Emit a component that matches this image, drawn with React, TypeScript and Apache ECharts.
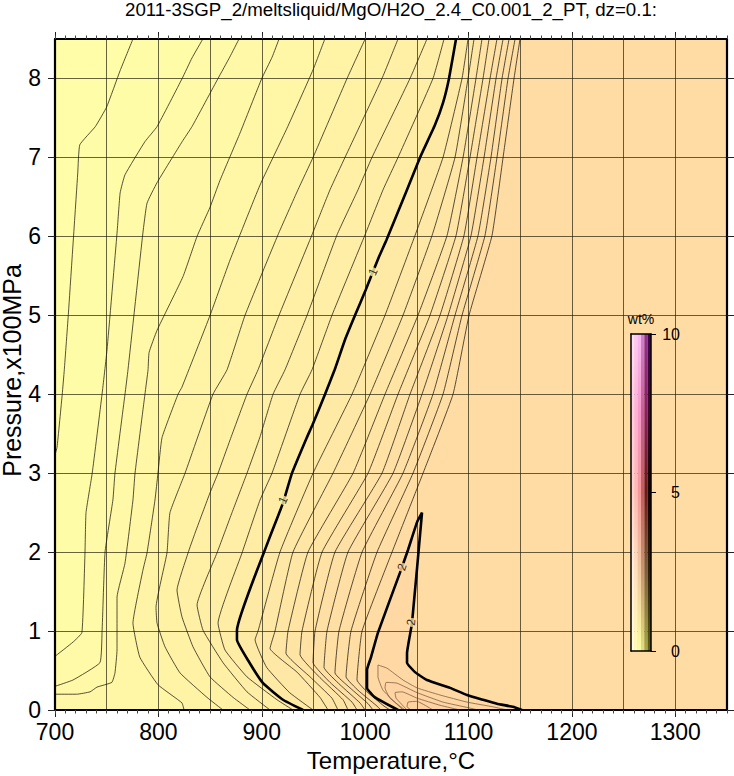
import React, { useEffect, useRef } from "react";
import * as echarts from "echarts";

const titleText = "2011-3SGP_2/meltsliquid/MgO/H2O_2.4_C0.001_2_PT, dz=0.1:";
const xLabelTicks = [700, 800, 900, 1000, 1100, 1200, 1300];
const yLabelTicks = [0, 1, 2, 3, 4, 5, 6, 7, 8];
const barTicks = [0, 5, 10];

const rowsP = [8.5, 8, 7, 6.01, 5, 4, 3, 2, 1];

const c01T = [775.4, 763, 750, 739, 724, 722, 713, 709, 707, 702, 700];
const c01P = [8.5, 8.1, 7.64, 7.39, 7.16, 6.8, 5.03, 4.31, 4.0, 3.33, 3.23];
const c02T = [843, 832.5, 823, 798.7, 787, 767.7, 763, 760, 750.3, 745.5, 736, 730, 729, 726, 717.4, 700];
const c02P = [8.5, 8.26, 8, 7.39, 7.2, 6.78, 6.55, 6.04, 4.56, 4, 3, 2.5, 1.99, 0.98, 0.86, 0.68];
const c03T = [878, 869, 857.7, 832.5, 823, 798.7, 789, 785, 770.6, 767.7, 758, 756, 748.4, 745.5, 743.5, 717.4, 700];
const c03P = [8.5, 8.27, 8, 7.39, 7.2, 6.68, 6.42, 6.04, 4.31, 4, 3, 2.66, 2, 0.98, 0.6, 0.38, 0.3];
const c04T = [916.7, 910, 900, 879, 859.6, 850, 837.4, 823.8, 798.7, 791, 790, 787, 777.4, 775.4, 767.7, 760, 760, 758, 755, 740.6, 733.9, 721, 700];
const c04P = [8.5, 8.27, 8, 7.31, 6.71, 6.37, 6, 5.49, 4.81, 4.53, 4.31, 4, 3, 2.66, 1.86, 1.43, 0.76, 0.47, 0.35, 0.29, 0.23, 0.2, 0.2];
const c05T = [961, 949.6, 924.4, 898.3, 869.3, 850, 822.8, 819, 803.5, 799.6, 796.7, 789, 785, 775.4, 782, 799.6, 822.8, 824.8];
const c05P = [8.5, 8.11, 7.37, 6.65, 5.7, 5, 4.09, 4, 3.45, 3, 2.66, 1.99, 1.77, 1.1, 0.67, 0.32, 0.09, 0];
const c06T = [1000, 982.5, 949.6, 935, 915.7, 883.8, 866.4, 852.8, 825.8, 811.2, 808.3, 797.7, 798.7, 806.4, 820.9, 847, 862.5];
const c06P = [8.5, 8, 7, 6.59, 6.02, 5, 4.31, 4, 3, 2.5, 1.99, 1.3, 1.1, 0.8, 0.47, 0.16, 0];
const c07T = [1031.8, 1016.3, 980.5, 966, 948.6, 916.7, 896.4, 885.7, 869.3, 857.7, 849.9, 835.4, 828.7, 818, 822.8, 833.5, 849.9, 872.2, 888.6];
const c07P = [8.5, 8, 7, 6.59, 6.02, 5, 4.31, 4, 3.42, 3, 2.75, 2.24, 1.99, 1.52, 1.18, 0.8, 0.42, 0.16, 0];
const c08T = [1059.8, 1043.4, 1006.6, 993.1, 972.8, 943.8, 922.5, 910.9, 898.3, 885.7, 871.2, 856.7, 837.4, 843.2, 862.5, 885.7, 908];
const c08P = [8.5, 8, 7, 6.59, 6.02, 5, 4.31, 4, 3.46, 3, 2.5, 1.99, 1.33, 1.01, 0.6, 0.23, 0];
const c09T = [1076.3, 1065.6, 1031.8, 1017.3, 999.9, 967.9, 948.6, 937, 909.9, 898.3, 880.9, 857.7, 864.4, 885.7, 914.7, 930.2];
const c09P = [8.5, 8, 7, 6.59, 6.02, 5, 4.31, 4, 3, 2.66, 1.99, 1.1, 0.76, 0.42, 0.13, 0];
const c10T = [1087.9, 1081.1, 1075.3, 1067.5, 1053.1, 1040.5, 1020.5, 1013, 1000.5, 990.2, 980.5, 970.5, 961.2, 949, 943.5, 929.2, 920.5, 906, 876, 876, 886.7, 901.2, 920.5, 939.9];
const c10P = [8.5, 8, 7.69, 7.41, 7, 6.59, 5.95, 5.73, 5.32, 5, 4.69, 4.31, 4, 3.61, 3.45, 3, 2.62, 2.13, 1.01, 0.89, 0.63, 0.34, 0.13, 0];

const c11T = [1099.5, 1093.7, 1075.3, 1048.2, 1019.2, 987.3, 949.6, 917.6, 896.4, 893.5, 904.7, 926.9, 949.6];
const c11P = [...rowsP, 0.89, 0.54, 0.22, 0];
const c12T = [1105.3, 1099.5, 1086.9, 1064.7, 1036.6, 1004.7, 968.9, 930.2, 912.8, 908, 934.1, 956.3, 964.1];
const c12P = [...rowsP, 0.78, 0.48, 0.16, 0];
const c13T = [1113, 1107.2, 1094.7, 1079.2, 1051.1, 1019.2, 988.3, 944.7, 925.4, 923.4, 946.7, 967.9, 973.7];
const c13P = [...rowsP, 0.72, 0.42, 0.15, 0];
const c14T = [1119.8, 1114, 1101.4, 1087.9, 1062.7, 1031.8, 1002.8, 958.3, 938.9, 937, 956.3, 978.6, 983.4];
const c14P = [...rowsP, 0.7, 0.41, 0.13, 0];
const c15T = [1127.5, 1120.8, 1108.2, 1095.6, 1072.4, 1043.4, 1016.3, 970.8, 951.5, 949.6, 966, 987.3, 992.1];
const c15P = [...rowsP, 0.6, 0.35, 0.1, 0];
const c16T = [1133.4, 1126.6, 1115, 1102.4, 1080.2, 1055, 1027, 983.4, 963.1, 960.2, 975.7, 995, 999.9];
const c16P = [...rowsP, 0.54, 0.32, 0.09, 0];
const c17T = [1139.2, 1132.4, 1121.7, 1109.2, 1086.9, 1065.6, 1036.6, 997, 974.7, 970.8, 985.4, 1002.8, 1007.6];
const c17P = [...rowsP, 0.47, 0.28, 0.08, 0];
const c18T = [1145, 1138.2, 1127.5, 1115.9, 1093.7, 1075.3, 1046.3, 1011.5, 986.3, 981.5, 993.1, 1010.5, 1015.3];
const c18P = [...rowsP, 0.42, 0.25, 0.06, 0];
const c19T = [1149.8, 1144, 1133.4, 1122.7, 1100.5, 1085, 1056, 1026, 997, 992.1, 1001.8, 1018.2, 1024];
const c19P = [...rowsP, 0.38, 0.23, 0.05, 0];

const c20T = [1031.8, 1009.5, 1001.8, 1001.8, 1005.7, 1012.4, 1033.7, 1041.5, 1050.2, 1055, 1045.3, 1040.5, 1040.5, 1048.2, 1059.8, 1082.1, 1098.5, 1114, 1127.5, 1143, 1151.7];
const c20P = [0, 0.16, 0.28, 0.51, 0.67, 0.98, 1.74, 2.03, 2.38, 2.5, 1.1, 0.72, 0.6, 0.48, 0.38, 0.28, 0.19, 0.13, 0.08, 0.04, 0];
const c21T = [1036.6, 1017.3, 1012.4, 1012.4, 1021.1, 1036.6, 1050.2, 1072.4, 1098.5, 1123.7, 1137.2];
const c21P = [0, 0.25, 0.42, 0.57, 0.53, 0.38, 0.28, 0.19, 0.1, 0.04, 0];
const c22T = [1038.6, 1024, 1019.2, 1020.2, 1030.8, 1050.2, 1075.3, 1099.5, 1109.2];
const c22P = [0, 0.15, 0.28, 0.35, 0.34, 0.22, 0.1, 0.03, 0];
const c23T = [1040.5, 1029.9, 1028.9, 1035.7, 1050.2, 1072.4, 1091.8];
const c23P = [0, 0.15, 0.22, 0.23, 0.15, 0.06, 0];
const c24T = [1044.4, 1040.5, 1041.5, 1050.2, 1057.9, 1065.6];
const c24P = [0, 0.04, 0.1, 0.11, 0.06, 0];

const openT = [c01T, c02T, c03T, c04T, c05T, c06T, c07T, c08T, c09T, c10T, c11T, c12T, c13T, c14T, c15T, c16T, c17T, c18T, c19T];
const openP = [c01P, c02P, c03P, c04P, c05P, c06P, c07P, c08P, c09P, c10P, c11P, c12P, c13P, c14P, c15P, c16P, c17P, c18P, c19P];
const closedT = [c20T, c21T, c22T, c23T, c24T];
const closedP = [c20P, c21P, c22P, c23P, c24P];
const heavyLevels = [9];

const baseColor = "#FFFDA8";
const openColors = ["#FFFCA7", "#FFFAA7", "#FFF8A6", "#FFF6A6", "#FFF4A6", "#FFF2A5", "#FFF0A5", "#FFEEA5", "#FFECA5", "#FFEAA5", "#FFE8A5", "#FFE6A5", "#FFE4A4", "#FFE2A4", "#FFE0A4", "#FFDFA4", "#FFDEA4", "#FFDDA3", "#FFDCA3"];
const closedColors = ["#FFD8A3", "#FFD6A2", "#FFD4A2", "#FFD2A1", "#FFD0A0"];

const labelT = [1007.6, 920.5, 1035.7, 1044.4];
const labelP = [5.55, 2.66, 1.81, 1.11];
const labelText = ["1", "1", "2", "2"];
const labelAngle = [66, 66, 72, 85];
const labelFill = ["#FFF0A5", "#FFEEA5", "#FFDAA3", "#FFDCA3"];

const barStops = [0, 2.5, 5, 7.5, 10];
const barColumns = [
  ["#FFFFDC", "#FFF0E0", "#FFD0D0", "#FFCCE8", "#FFDCFF"],
  ["#FFFFB8", "#FFE0C0", "#FFB8B8", "#FFB0D8", "#FFC8F8"],
  ["#FCFCA0", "#F0C8A0", "#F49898", "#F498C8", "#F8B8F0"],
  ["#E0E080", "#C89870", "#C06060", "#C86098", "#D080D0"],
  ["#A8A848", "#806040", "#701818", "#882060", "#903090"],
  ["#606018", "#302008", "#100000", "#400828", "#400050"],
];

const FONT = "Liberation Sans";
const GRID_LINE = "rgba(45,40,20,0.72)";

function zip(t: number[], p: number[]) {
  return t.map((v, i) => [v, p[i]]);
}

function buildOption() {
  const rings: { pts: number[][]; fill: string }[] = [
    { pts: [[700, 0], [1350, 0], [1350, 8.5], [700, 8.5]], fill: baseColor },
  ];
  openT.forEach((t, i) => {
    const pts = zip(t, openP[i]);
    pts.push([t[t.length - 1], 0], [1350, 0], [1350, 8.5]);
    rings.push({ pts, fill: openColors[i] });
  });
  closedT.forEach((t, i) => {
    rings.push({ pts: zip(t, closedP[i]), fill: closedColors[i] });
  });

  const lineBase = (name: string, data: number[][], heavy: boolean, color: string) => ({
    name,
    type: "line",
    data,
    xAxisIndex: 0,
    yAxisIndex: 0,
    showSymbol: false,
    symbol: "none",
    silent: true,
    smooth: 0.12,
    z: heavy ? 4 : 3,
    lineStyle: { color, width: heavy ? 2.6 : 0.8 },
  });

  const series: any[] = [
    {
      type: "custom",
      xAxisIndex: 0,
      yAxisIndex: 0,
      silent: true,
      z: 1,
      data: rings.map((_, i) => [i]),
      renderItem: (_p: any, api: any) => {
        const r = rings[api.value(0)];
        return {
          type: "polygon",
          shape: { points: r.pts.map((q) => api.coord(q)) },
          style: { fill: r.fill, stroke: r.fill, lineWidth: 0.3 },
        };
      },
    },
    ...openT.map((t, i) =>
      lineBase(`c${i + 1}`, zip(t, openP[i]), heavyLevels.includes(i), heavyLevels.includes(i) ? "#000" : "rgba(20,18,10,0.9)")
    ),
    ...closedT.map((t, i) =>
      lineBase(`d${i}`, zip(t, closedP[i]), i === 0, i === 0 ? "#000" : "rgba(110,85,60,0.9)")
    ),
    {
      type: "scatter",
      xAxisIndex: 0,
      yAxisIndex: 0,
      silent: true,
      z: 5,
      symbolSize: 1,
      itemStyle: { color: "transparent" },
      data: labelT.map((t, i) => ({
        value: [t, labelP[i]],
        label: {
          show: true,
          position: "inside",
          formatter: labelText[i],
          rotate: labelAngle[i],
          fontFamily: FONT,
          fontSize: 12,
          color: "#000",
          backgroundColor: labelFill[i],
          padding: [0, 1],
        },
      })),
    },
    {
      type: "custom",
      xAxisIndex: 5,
      yAxisIndex: 3,
      silent: true,
      z: 6,
      data: barColumns.map((_, i) => [i]),
      renderItem: (_p: any, api: any) => {
        const i = api.value(0);
        const a = api.coord([i, 10]);
        const b = api.coord([i + 1, 0]);
        const colorStops = barStops.map((s, k) => ({ offset: s / 10, color: barColumns[i][k] }));
        return {
          type: "rect",
          shape: { x: a[0], y: a[1], width: b[0] - a[0], height: b[1] - a[1] },
          style: { fill: new echarts.graphic.LinearGradient(0, 1, 0, 0, colorStops) },
        };
      },
    },
  ];

  const plain = (v: number) => String(v);
  const common = { type: "value", axisLine: { show: false, onZero: false }, axisTick: { show: false }, axisLabel: { show: false }, splitLine: { show: false } };
  const frameLine = { show: true, onZero: false, lineStyle: { color: "#000", width: 2.2 } };
  const xMain = { ...common, gridIndex: 0, min: 700, max: 1350 };
  const yMain = { ...common, gridIndex: 0, min: 0, max: 8.5 };
  const majorTick = { show: true, length: 7, lineStyle: { color: "#222", width: 1 } };
  const minorTick = { show: true, length: 3.5, lineStyle: { color: "#444", width: 1 } };
  const cbLine = { show: true, onZero: false, lineStyle: { color: "#000", width: 1.5 } };
  const cbX = { ...common, gridIndex: 1, min: 0, max: barColumns.length };
  const cbY = { ...common, gridIndex: 1, min: 0, max: 10 };

  return {
    animation: false,
    backgroundColor: "#fff",
    title: {
      text: titleText,
      left: 391,
      top: 0,
      padding: 0,
      textAlign: "center",
      textStyle: { fontFamily: FONT, fontSize: 18.7, lineHeight: 18, fontWeight: "normal", color: "#000" },
    },
    grid: [
      { left: 55, top: 39, width: 672, height: 671, outerBoundsMode: "none" },
      { left: 631, top: 334, width: 20, height: 317, outerBoundsMode: "none" },
    ],
    xAxis: [
      {
        ...xMain,
        position: "bottom",
        interval: 50,
        z: 2,
        splitLine: { show: true, lineStyle: { color: GRID_LINE, width: 1 } },
      },
      {
        ...xMain,
        position: "bottom",
        interval: 50,
        z: 7,
        axisLine: frameLine,
        axisTick: { ...majorTick, customValues: xLabelTicks },
        axisLabel: { show: true, customValues: xLabelTicks, formatter: plain, fontFamily: FONT, fontSize: 23, color: "#000", margin: 10 },
        name: "Temperature,°C",
        nameLocation: "middle",
        nameGap: 38,
        nameMoveOverlap: false,
        nameTextStyle: { fontFamily: FONT, fontSize: 24, color: "#000" },
      },
      { ...xMain, position: "bottom", interval: 10, z: 7, axisTick: minorTick },
      {
        ...xMain,
        position: "top",
        interval: 50,
        z: 7,
        axisLine: frameLine,
        axisTick: { ...majorTick, customValues: xLabelTicks },
      },
      { ...xMain, position: "top", interval: 10, z: 7, axisTick: minorTick },
      { ...cbX, position: "bottom", z: 8, axisLine: cbLine },
      {
        ...cbX,
        position: "top",
        z: 8,
        axisLine: cbLine,
        name: "wt%",
        nameLocation: "middle",
        nameGap: 8,
        nameTextStyle: { fontFamily: FONT, fontSize: 14, color: "#000" },
      },
    ],
    yAxis: [
      {
        ...yMain,
        position: "left",
        interval: 1,
        z: 2,
        splitLine: { show: true, lineStyle: { color: GRID_LINE, width: 1 } },
      },
      {
        ...yMain,
        position: "left",
        interval: 1,
        z: 7,
        axisLine: frameLine,
        axisTick: { ...majorTick, customValues: yLabelTicks },
        axisLabel: { show: true, customValues: yLabelTicks, formatter: plain, fontFamily: FONT, fontSize: 23, color: "#000", margin: 14 },
        name: "Pressure,x100MPa",
        nameLocation: "middle",
        nameGap: 31,
        nameMoveOverlap: false,
        nameTextStyle: { fontFamily: FONT, fontSize: 25, color: "#000", padding: [0, 0, 0, 8] },
      },
      {
        ...yMain,
        position: "right",
        interval: 1,
        z: 7,
        axisLine: frameLine,
        axisTick: { ...majorTick, customValues: yLabelTicks },
      },
      { ...cbY, position: "left", z: 8, axisLine: cbLine },
      {
        ...cbY,
        position: "right",
        interval: 5,
        z: 8,
        axisLine: cbLine,
        axisTick: { show: true, length: 5, lineStyle: { color: "#000", width: 1 } },
        axisLabel: { show: true, customValues: barTicks, formatter: plain, align: "right", fontFamily: FONT, fontSize: 16, color: "#000", margin: 29 },
      },
    ],
    series,
  };
}

export default function App() {
  const ref = useRef<HTMLDivElement>(null);
  useEffect(() => {
    const chart = echarts.init(ref.current as HTMLDivElement, undefined, { renderer: "svg", width: 734, height: 776 });
    chart.setOption(buildOption() as any);
    return () => chart.dispose();
  }, []);
  return <div ref={ref} style={{ position: "absolute", left: 0, top: 0, width: 734, height: 776 }} />;
}
